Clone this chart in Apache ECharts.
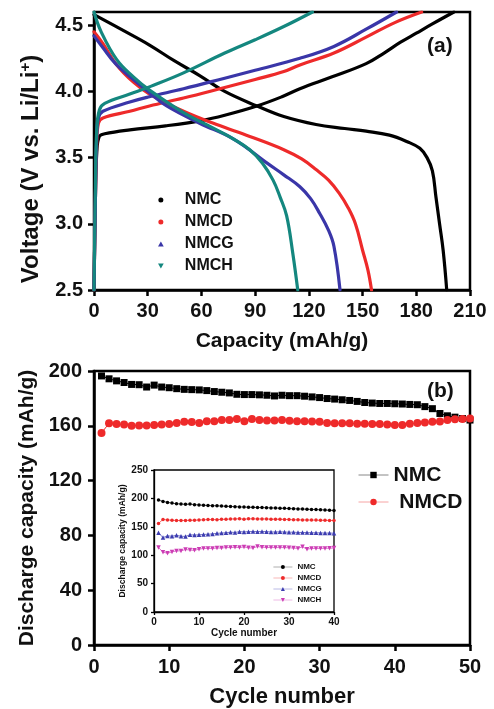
<!DOCTYPE html>
<html>
<head>
<meta charset="utf-8">
<script src="https://cdn.jsdelivr.net/npm/echarts@6/dist/echarts.min.js"></script>
<style>
  html, body { margin: 0; padding: 0; background: #fff; }
  #chart { width: 494px; height: 709px; }
</style>
</head>
<body>
<div id="chart"></div>
<script>
// ---- (a) charge / discharge profiles: [capacity mAh/g, voltage V] ----
const nmcCharge = [[0,2.5],[0.8,3.2],[1.6,3.55],[3,3.66],[6,3.68],[20,3.71],[40,3.74],[60,3.78],[73,3.82],[91,3.89],[105,3.96],[115,4.02],[133,4.11],[152,4.21],[162,4.29],[171,4.37],[180,4.44],[189,4.51],[201,4.6]];
const nmcDischarge = [[0,4.58],[15,4.47],[31,4.35],[45,4.23],[59,4.12],[73,4.0],[91,3.89],[106,3.81],[124,3.75],[140,3.72],[152,3.7],[165,3.67],[175,3.62],[182,3.57],[186,3.5],[189,3.4],[191,3.2],[193,3.0],[195,2.8],[197,2.5]];
const nmcdCharge = [[0,2.5],[0.8,3.2],[1.5,3.6],[2.5,3.76],[5,3.8],[20,3.85],[31,3.89],[50,3.95],[73,4.03],[90,4.09],[106,4.15],[115,4.2],[134,4.29],[152,4.41],[168,4.52],[183,4.6]];
const nmcdDischarge = [[0,4.45],[5,4.36],[12.7,4.2],[22,4.07],[31,3.98],[50,3.85],[68.5,3.75],[87,3.66],[106,3.56],[116,3.49],[124,3.41],[131,3.33],[137,3.23],[142,3.12],[146,3.0],[150,2.8],[153,2.65],[155,2.5]];
const nmcgCharge = [[0,2.5],[0.8,3.2],[1.5,3.65],[2.5,3.8],[5,3.85],[20,3.92],[31,3.96],[50,4.02],[73,4.1],[90,4.16],[115,4.25],[134,4.34],[152,4.47],[169,4.6]];
const nmcgDischarge = [[0,4.42],[5,4.33],[12,4.21],[22,4.09],[31,3.99],[40.6,3.89],[59,3.76],[78,3.64],[96.5,3.46],[106,3.37],[115,3.28],[121,3.19],[126,3.08],[131,2.95],[134,2.83],[137.4,2.5]];
const nmchCharge = [[0,2.5],[0.8,3.3],[1.5,3.7],[3,3.86],[6,3.91],[20,3.98],[32,4.04],[50,4.14],[73,4.29],[90,4.39],[106,4.49],[122,4.6]];
const nmchDischarge = [[0,4.6],[4,4.45],[12.7,4.24],[22,4.11],[31,4.01],[50,3.84],[68.5,3.71],[78,3.64],[87,3.56],[94,3.46],[100,3.33],[104,3.2],[107.6,3.06],[111,2.78],[113.8,2.5]];

// ---- (b) discharge capacity vs. cycle number (cycles 1..50) ----
const nmcCycle = [196.4,194.3,192.8,191.6,190.2,190.0,188.3,189.7,188.3,187.8,187.1,186.6,186.4,186.2,185.7,185.0,184.5,184.0,183.0,182.8,182.8,182.6,182.3,181.8,182.3,182.0,182.0,181.6,181.1,180.6,179.9,179.5,179.0,178.5,177.8,177.0,176.6,176.3,176.3,176.1,175.9,175.6,175.4,174.0,172.5,169.0,167.3,166.3,165.3,164.2];
const nmcdCycle = [154.8,161.8,161.3,161.0,160.0,160.3,160.3,160.6,161.0,161.3,162.0,163.0,162.7,162.0,163.4,163.4,164.2,164.2,164.9,163.4,164.9,164.2,163.9,163.9,164.2,163.7,163.4,163.4,163.2,163.0,162.0,161.8,161.8,161.8,161.5,161.5,161.3,161.3,161.0,160.6,160.6,161.5,162.0,162.5,163.0,163.2,164.2,164.7,164.9,165.3];

// ---- inset: four samples, cycles 1..40 ----
const insetNMC  = [197.0,194.7,193.0,191.7,190.5,190.2,189.6,190.0,189.0,188.5,188.0,187.5,187.2,187.0,186.5,186.2,185.8,185.5,185.0,184.8,184.6,184.3,184.0,183.8,183.6,183.3,183.0,182.8,182.5,182.0,181.8,181.5,181.2,181.0,180.6,180.3,180.0,179.6,179.2,178.8];
const insetNMCD = [155.9,163.0,162.0,161.7,161.0,161.2,161.2,161.5,161.7,162.0,162.3,162.7,162.7,162.5,163.2,163.2,163.8,163.8,164.2,163.5,164.0,164.0,163.8,163.8,163.8,163.5,163.5,163.3,163.0,162.8,162.3,162.3,162.0,162.0,161.8,161.8,161.5,161.5,161.2,161.0];
const insetNMCG = [139.4,131.0,134.0,133.5,135.0,133.5,133.0,136.0,135.5,136.0,136.5,137.0,137.5,138.5,139.0,139.5,140.5,140.0,141.5,141.0,141.5,141.8,141.5,141.8,141.5,141.0,140.8,141.3,140.8,140.5,140.5,140.0,140.0,139.8,139.5,139.5,139.3,139.0,139.0,138.8];
const insetNMCH = [113.5,105.3,103.5,105.8,107.6,107.6,110.0,109.0,108.5,110.6,111.9,111.9,111.9,112.6,112.6,113.4,113.4,114.0,113.4,114.6,113.0,112.6,115.4,114.0,113.6,113.4,113.4,113.4,113.4,113.0,112.6,112.0,114.8,110.6,111.9,111.9,112.0,112.0,112.3,112.6];

const FONT = 'Liberation Sans, Arial, Helvetica, sans-serif';
const INK = '#111';
const C = { nmc: '#000000', nmcd: '#ee2a2a', nmcg: '#3a36a8', nmch: '#14877f', nmchInset: '#cc3cb4', nmcgInset: '#3c3cb0' };

const UP_TRIANGLE = 'path://M5,0L10,8.7L0,8.7Z';
const DOWN_TRIANGLE = 'path://M0,0L10,0L5,8.7Z';

const withCycle = arr => arr.map((v, i) => [i + 1, v]);
const stripTag = n => n.replace(/ \(.*\)$/, '');

function profile(name, color, data) {
  return {
    type: 'line', name, xAxisIndex: 0, yAxisIndex: 0, data,
    symbol: 'none', showSymbol: false, smooth: 0.4,
    lineStyle: { color, width: 3.2, join: 'round', cap: 'round' }, itemStyle: { color }, z: 3
  };
}

function cycleSeries(name, color, values, symbol, size, axis, extra) {
  return Object.assign({
    type: 'line', name, xAxisIndex: axis, yAxisIndex: axis, data: withCycle(values),
    symbol, symbolSize: size, showSymbol: true,
    lineStyle: { color, width: axis === 1 ? 1 : 0.7 }, itemStyle: { color }
  }, extra || {});
}

function axisCommon(fontSize, lineW, tickLen, margin) {
  return {
    axisLine: { show: true, onZero: false, lineStyle: { color: '#000', width: lineW } },
    axisTick: { show: true, inside: false, length: tickLen, lineStyle: { color: '#000', width: lineW } },
    splitLine: { show: false },
    axisLabel: { color: INK, fontFamily: FONT, fontWeight: 'bold', fontSize, margin }
  };
}

const chart = echarts.init(document.getElementById('chart'), null, { renderer: 'canvas' });

chart.setOption({
  animation: false,
  backgroundColor: '#fff',
  grid: [
    { left: 94, top: 12, width: 376, height: 278, show: true, borderColor: '#000', borderWidth: 2.5, backgroundColor: 'transparent' },
    { left: 94, top: 371, width: 376, height: 279, show: true, borderColor: '#000', borderWidth: 2.5, backgroundColor: 'transparent' },
    { left: 154, top: 470, width: 180, height: 142, show: true, borderColor: '#000', borderWidth: 1.3, backgroundColor: 'transparent' }
  ],
  xAxis: [
    Object.assign(axisCommon(20, 2.5, 6, 11), {
      type: 'value', gridIndex: 0, min: 0, max: 210, interval: 30,
      name: 'Capacity (mAh/g)', nameLocation: 'middle', nameGap: 41,
      nameTextStyle: { color: INK, fontFamily: FONT, fontWeight: 'bold', fontSize: 21 }
    }),
    Object.assign(axisCommon(20, 2.5, 6, 12), {
      type: 'value', gridIndex: 1, min: 0, max: 50, interval: 10,
      name: 'Cycle number', nameLocation: 'middle', nameGap: 41,
      nameTextStyle: { color: INK, fontFamily: FONT, fontWeight: 'bold', fontSize: 22 }
    }),
    Object.assign(axisCommon(10, 1.3, 3, 5), {
      type: 'value', gridIndex: 2, min: 0, max: 40, interval: 10,
      name: 'Cycle number', nameLocation: 'middle', nameGap: 16,
      nameTextStyle: { color: INK, fontFamily: FONT, fontWeight: 'bold', fontSize: 10 }
    })
  ],
  yAxis: [
    Object.assign(axisCommon(20, 2.5, 6, 11), {
      type: 'value', gridIndex: 0, min: 2.5, max: 4.6, interval: 0.5,
      name: 'Voltage (V vs. Li/Li{sup|+})', nameLocation: 'middle', nameGap: 50,
      nameTextStyle: {
        color: INK, fontFamily: FONT, fontWeight: 'bold', fontSize: 24, lineHeight: 26,
        padding: [0, 36, 0, 0],
        rich: { sup: { color: INK, fontFamily: FONT, fontWeight: 'bold', fontSize: 15, lineHeight: 15, verticalAlign: 'top' } }
      }
    }),
    Object.assign(axisCommon(20, 2.5, 6, 12), {
      type: 'value', gridIndex: 1, min: 0, max: 200, interval: 40,
      name: 'Discharge capacity (mAh/g)', nameLocation: 'middle', nameGap: 51,
      nameTextStyle: { color: INK, fontFamily: FONT, fontWeight: 'bold', fontSize: 21 }
    }),
    Object.assign(axisCommon(10, 1.3, 3, 6), {
      type: 'value', gridIndex: 2, min: 0, max: 250, interval: 50,
      name: 'Discharge capacity (mAh/g)', nameLocation: 'middle', nameGap: 27,
      nameTextStyle: { color: INK, fontFamily: FONT, fontWeight: 'bold', fontSize: 8.6 }
    })
  ],
  legend: [
    {
      orient: 'vertical', left: 153, top: 187, itemWidth: 38, itemHeight: 5, itemGap: 6,
      selectedMode: false, formatter: stripTag, symbolKeepAspect: true,
      textStyle: { color: INK, fontFamily: FONT, fontWeight: 'bold', fontSize: 16, lineHeight: 16 },
      data: [
        { name: 'NMC (a)', icon: 'circle' },
        { name: 'NMCD (a)', icon: 'circle' },
        { name: 'NMCG (a)', icon: UP_TRIANGLE },
        { name: 'NMCH (a)', icon: DOWN_TRIANGLE }
      ]
    },
    {
      orient: 'vertical', left: 353, top: 459, itemWidth: 30, itemHeight: 8, itemGap: 5,
      selectedMode: false,
      formatter: n => (n.indexOf('NMCD') === 0 ? ' ' : '') + stripTag(n),
      textStyle: { color: INK, fontFamily: FONT, fontWeight: 'bold', fontSize: 21, lineHeight: 22 },
      data: [
        { name: 'NMC (b)', lineStyle: { color: '#888', width: 1 } },
        { name: 'NMCD (b)', lineStyle: { color: '#f6a4a4', width: 1 } }
      ]
    },
    {
      orient: 'vertical', left: 268, top: 557, itemWidth: 19, itemHeight: 5, itemGap: 1,
      selectedMode: false, formatter: stripTag,
      textStyle: { color: INK, fontFamily: FONT, fontWeight: 'bold', fontSize: 8, lineHeight: 10 },
      data: [
        { name: 'NMC (inset)', lineStyle: { color: '#999', width: 0.8 } },
        { name: 'NMCD (inset)', lineStyle: { color: '#f6a4a4', width: 0.8 } },
        { name: 'NMCG (inset)', lineStyle: { color: '#a8a8e0', width: 0.8 } },
        { name: 'NMCH (inset)', lineStyle: { color: '#eaa8de', width: 0.8 } }
      ]
    }
  ],
  graphic: [
    { type: 'text', left: 427, top: 36, style: { text: '(a)', fill: INK, font: 'bold 21px ' + FONT } },
    { type: 'text', left: 427, top: 381, style: { text: '(b)', fill: INK, font: 'bold 21px ' + FONT } }
  ],
  series: [
    profile('NMC (a)', C.nmc, nmcCharge),
    profile('NMC (a)', C.nmc, nmcDischarge),
    profile('NMCD (a)', C.nmcd, nmcdCharge),
    profile('NMCD (a)', C.nmcd, nmcdDischarge),
    profile('NMCG (a)', C.nmcg, nmcgCharge),
    profile('NMCG (a)', C.nmcg, nmcgDischarge),
    profile('NMCH (a)', C.nmch, nmchCharge),
    profile('NMCH (a)', C.nmch, nmchDischarge),

    cycleSeries('NMC (b)', C.nmc, nmcCycle, 'rect', 7, 1),
    cycleSeries('NMCD (b)', C.nmcd, nmcdCycle, 'circle', 8, 1),

    cycleSeries('NMC (inset)', C.nmc, insetNMC, 'circle', 3.5, 2),
    cycleSeries('NMCD (inset)', C.nmcd, insetNMCD, 'circle', 3.5, 2),
    cycleSeries('NMCG (inset)', C.nmcgInset, insetNMCG, 'triangle', 4.5, 2),
    cycleSeries('NMCH (inset)', C.nmchInset, insetNMCH, 'triangle', 4.5, 2, { symbolRotate: 180 })
  ]
});

// the top voltage (4.6) closes the frame and carries no label
chart.setOption({ yAxis: [{ axisLabel: { showMaxLabel: false, formatter: v => v.toFixed(1) } }] });
</script>
</body>
</html>
